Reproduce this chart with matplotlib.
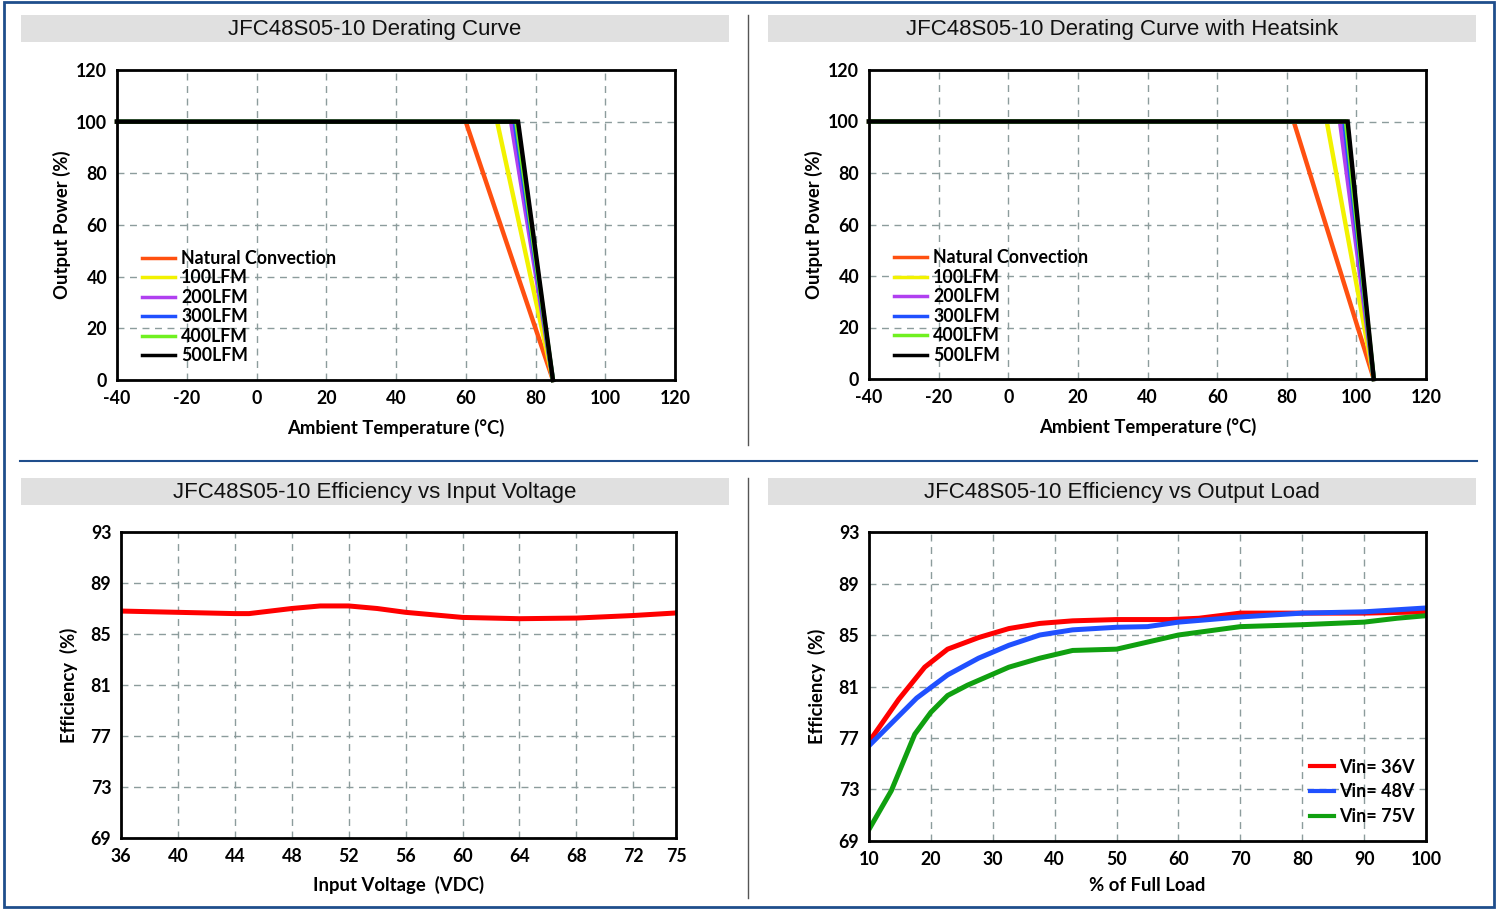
import matplotlib
matplotlib.use("Agg")
import matplotlib.pyplot as plt
from matplotlib.patches import Rectangle
from matplotlib.lines import Line2D

plt.rcParams["axes.unicode_minus"] = False

W, H = 1499, 909
# ---------------- data ----------------
der_labels = ["Natural Convection", "100LFM", "200LFM", "300LFM", "400LFM", "500LFM"]
der_colors = ["#FF5010", "#F2F200", "#B040F0", "#2050FF", "#70F020", "#000000"]
der_knee = [60, 69, 73, 74, 74.5, 75]
der_end = [85, 85, 85, 85, 85, 85]
hs_knee = [82, 91.5, 95.3, 96.5, 97, 97.5]
hs_end = [105, 105, 105, 105, 105, 105]
temp_ticks = [-40, -20, 0, 20, 40, 60, 80, 100, 120]
power_ticks = [0, 20, 40, 60, 80, 100, 120]

vin = [36, 40, 44, 45, 48, 50, 52, 54, 56, 60, 64, 68, 72, 75]
eff_vin = [86.8, 86.7, 86.6, 86.6, 87.0, 87.2, 87.2, 87.0, 86.7, 86.3, 86.2, 86.25, 86.45, 86.65]
vin_ticks = [36, 40, 44, 48, 52, 56, 60, 64, 68, 72, 75]
eff_ticks = [69, 73, 77, 81, 85, 89, 93]

load_36 = [10, 14.8, 19, 22.7, 27.7, 32.6, 37.6, 42.9, 50, 58.5, 63.3, 70, 80, 90, 100]
eff_36 = [76.7, 80.0, 82.5, 83.9, 84.8, 85.5, 85.9, 86.1, 86.2, 86.2, 86.3, 86.7, 86.7, 86.7, 86.8]
load_48 = [10, 17.7, 22.7, 27.7, 32.6, 37.6, 42.9, 50, 55, 60, 70, 80, 90, 100]
eff_48 = [76.4, 80.1, 81.9, 83.2, 84.2, 85.0, 85.4, 85.6, 85.65, 86.0, 86.4, 86.7, 86.8, 87.1]
load_75 = [10, 13.6, 17.4, 20, 22.7, 25.9, 32.6, 37.6, 42.9, 50, 60, 70, 80, 90, 95.3, 100]
eff_75 = [69.9, 72.9, 77.3, 79.0, 80.3, 81.1, 82.5, 83.2, 83.8, 83.9, 85.0, 85.65, 85.8, 86.0, 86.3, 86.5]
load_ticks = [10, 20, 30, 40, 50, 60, 70, 80, 90, 100]

# ---------------- figure ----------------
fig = plt.figure(figsize=(W / 100, H / 100), dpi=100)
TF = "Lato"
LBL = 13.3

def fx(px):
    return px / W

def fy(py):
    return 1 - py / H

def add_axes(l, r, t, b):
    return fig.add_axes([fx(l), fy(b), fx(r) - fx(l), fy(t) - fy(b)])

def style(ax):
    for s in ax.spines.values():
        s.set_linewidth(2)
        s.set_color("black")
    ax.grid(True, color="#8C9C9C", linestyle=(0, (5, 4)), linewidth=1)
    ax.tick_params(length=0, pad=7)
    for lab in ax.get_xticklabels() + ax.get_yticklabels():
        lab.set_fontfamily(TF)
        lab.set_fontweight("bold")
        lab.set_fontsize(12.8)

# frame
fig.patches.append(Rectangle((fx(4), fy(907)), fx(1494) - fx(4), fy(2) - fy(907),
                             transform=fig.transFigure, fill=False, edgecolor="#1F4E8C", linewidth=2))
fig.lines.append(Line2D([fx(20), fx(1477)], [fy(461), fy(461)], transform=fig.transFigure,
                        color="#1F4E8C", linewidth=1.5))
fig.lines.append(Line2D([fx(748), fx(748)], [fy(15), fy(445)], transform=fig.transFigure,
                        color="#555555", linewidth=1))
fig.lines.append(Line2D([fx(748), fx(748)], [fy(478), fy(898)], transform=fig.transFigure,
                        color="#555555", linewidth=1))

titles = [("JFC48S05-10 Derating Curve", 21, 729, 15, 42),
          ("JFC48S05-10 Derating Curve with Heatsink", 768, 1476, 15, 42),
          ("JFC48S05-10 Efficiency vs Input Voltage", 21, 729, 478, 505),
          ("JFC48S05-10 Efficiency vs Output Load", 768, 1476, 478, 505)]
for t, l, r, tp, bt in titles:
    fig.patches.append(Rectangle((fx(l), fy(bt)), fx(r) - fx(l), fy(tp) - fy(bt),
                                 transform=fig.transFigure, facecolor="#E0E0E0", edgecolor="none"))
    fig.text((fx(l) + fx(r)) / 2, (fy(tp) + fy(bt)) / 2 - 0.001, t, ha="center", va="center",
             fontsize=16, family="Liberation Sans", color="#111111")

def derating(ax, knee, end):
    for lab, c, k, e in zip(der_labels, der_colors, knee, end):
        ax.plot([-40, k, e], [100, 100, 0], color=c, linewidth=3.2, label=lab,
                solid_joinstyle="miter", clip_on=False)
    ax.set_xlim(-40, 120)
    ax.set_ylim(0, 120)
    ax.set_xticks(temp_ticks)
    ax.set_yticks(power_ticks)
    style(ax)
    ax.set_xlabel("Ambient Temperature (°C)", fontfamily=TF, fontweight="bold", fontsize=LBL, labelpad=9)
    ax.set_ylabel("Output Power (%)", fontfamily=TF, fontweight="bold", fontsize=LBL, labelpad=4)
    leg = ax.legend(loc="upper left", bbox_to_anchor=(0.0, 0.5), frameon=False,
                    prop={"family": TF, "weight": "bold", "size": 12.8},
                    handlelength=1.85, handletextpad=0.35, labelspacing=0.14, borderaxespad=1.0)
    for h in leg.get_lines():
        h.set_linewidth(2.5)

ax1 = add_axes(117, 675, 70, 380)
derating(ax1, der_knee, der_end)
ax2 = add_axes(869, 1426, 70, 379)
derating(ax2, hs_knee, hs_end)

ax3 = add_axes(121, 676, 532, 838)
ax3.plot(vin, eff_vin, color="#FF0000", linewidth=3.6)
ax3.set_xlim(36, 75)
ax3.set_ylim(69, 93)
ax3.set_xticks(vin_ticks)
ax3.set_yticks(eff_ticks)
style(ax3)
ax3.set_xlabel("Input Voltage  (VDC)", fontfamily=TF, fontweight="bold", fontsize=LBL, labelpad=8)
ax3.set_ylabel("Efficiency  (%)", fontfamily=TF, fontweight="bold", fontsize=LBL, labelpad=9)

ax4 = add_axes(869, 1426, 532, 841)
ax4.plot(load_36, eff_36, color="#FF0000", linewidth=3.6, label="Vin= 36V")
ax4.plot(load_48, eff_48, color="#2050FF", linewidth=3.6, label="Vin= 48V")
ax4.plot(load_75, eff_75, color="#10A010", linewidth=3.6, label="Vin= 75V")
ax4.set_xlim(10, 100)
ax4.set_ylim(69, 93)
ax4.set_xticks(load_ticks)
ax4.set_yticks(eff_ticks)
style(ax4)
ax4.set_xlabel("% of Full Load", fontfamily=TF, fontweight="bold", fontsize=LBL, labelpad=7)
ax4.set_ylabel("Efficiency  (%)", fontfamily=TF, fontweight="bold", fontsize=LBL, labelpad=9)
leg = ax4.legend(loc="lower right", bbox_to_anchor=(1.0, 0.017), frameon=False,
                 prop={"family": TF, "weight": "bold", "size": 13},
                 handlelength=1.35, handletextpad=0.3, labelspacing=0.42, borderaxespad=0.2)
for h in leg.get_lines():
    h.set_linewidth(3)

fig.savefig("out.png", dpi=100)
